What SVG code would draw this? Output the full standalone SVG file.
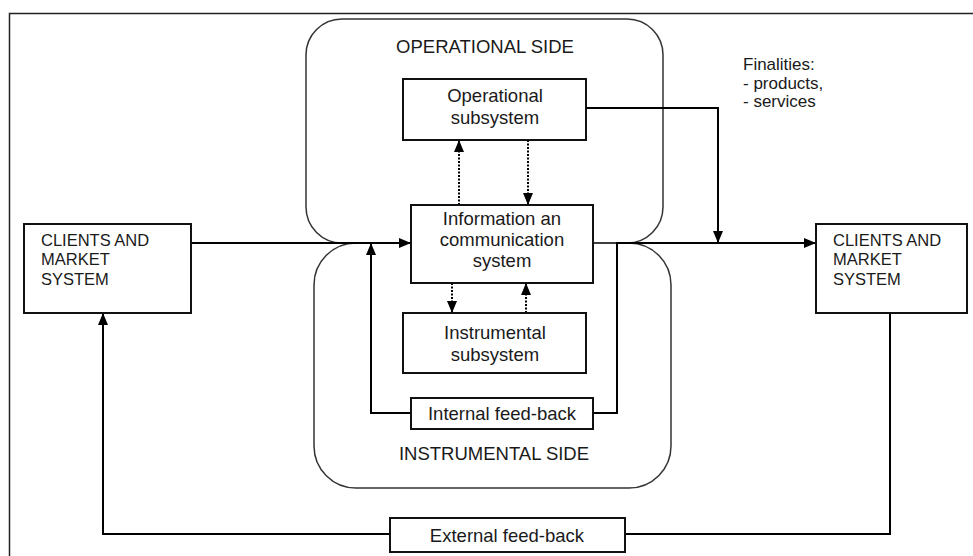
<svg xmlns="http://www.w3.org/2000/svg" width="973" height="556" viewBox="0 0 973 556">
<defs>
<marker id="arr" viewBox="0 0 12 10" refX="12" refY="5" markerWidth="12" markerHeight="10" markerUnits="userSpaceOnUse" orient="auto">
<path d="M0,0 L12,5 L0,10 z" fill="#000"/>
</marker>
<style>
.side{fill:none;stroke:#333;stroke-width:1.5}
.box{fill:#fff;stroke:#111;stroke-width:2}
.ln{fill:none;stroke:#000;stroke-width:2}
.dot{fill:none;stroke:#000;stroke-width:2;stroke-dasharray:2,1.5}
text{font-family:"Liberation Sans",Arial,sans-serif;fill:#1a1a1a}
.t{font-size:18.5px;text-anchor:middle}
.c{font-size:16.5px}
.f{font-size:17px}
</style>
</defs>
<rect width="973" height="556" fill="#fff"/>
<path d="M9.5,556 V13.5 H973" fill="none" stroke="#222" stroke-width="1.5"/>
<g id="operational-side">
<rect class="side" x="306" y="19" width="357" height="224" rx="36"/>
<text class="t" x="485" y="53">OPERATIONAL SIDE</text>
</g>
<g id="instrumental-side">
<rect class="side" x="314" y="243" width="357" height="245" rx="42"/>
<text class="t" x="494" y="460">INSTRUMENTAL SIDE</text>
</g>
<g id="connectors">
<path class="ln" d="M191,243 H411" marker-end="url(#arr)"/>
<path class="ln" d="M411,413 H371 V243" marker-end="url(#arr)"/>
<path class="ln" d="M593,413 H617 V243 H816" marker-end="url(#arr)"/>
<path class="ln" d="M586,108 H718 V243" marker-end="url(#arr)"/>
<path class="ln" d="M890,313 V534 H625"/>
<path class="ln" d="M390,534 H103 V313" marker-end="url(#arr)"/>
<path class="dot" d="M459,205 V140" marker-end="url(#arr)"/>
<path class="dot" d="M528,140 V205" marker-end="url(#arr)"/>
<path class="dot" d="M452,283 V313" marker-end="url(#arr)"/>
<path class="dot" d="M526,313 V283" marker-end="url(#arr)"/>
</g>
<g id="operational-subsystem">
<rect class="box" x="403" y="79" width="183" height="61"/>
<text class="t" x="495" y="102">Operational</text>
<text class="t" x="495" y="124">subsystem</text>
</g>
<g id="information-system">
<rect class="box" x="411" y="205" width="182" height="78"/>
<text class="t" x="502" y="225">Information an</text>
<text class="t" x="502" y="246">communication</text>
<text class="t" x="502" y="267">system</text>
</g>
<g id="instrumental-subsystem">
<rect class="box" x="403" y="313" width="183" height="60"/>
<text class="t" x="495" y="339">Instrumental</text>
<text class="t" x="495" y="361">subsystem</text>
</g>
<g id="internal-feedback">
<rect class="box" x="411" y="398" width="182" height="31"/>
<text class="t" x="502" y="420">Internal feed-back</text>
</g>
<g id="external-feedback">
<rect class="box" x="390" y="518" width="235" height="34"/>
<text class="t" x="507" y="542">External feed-back</text>
</g>
<g id="clients-left">
<rect class="box" x="24" y="224" width="167" height="89"/>
<text class="c" x="41" y="246">CLIENTS AND</text>
<text class="c" x="41" y="265">MARKET</text>
<text class="c" x="41" y="285">SYSTEM</text>
</g>
<g id="clients-right">
<rect class="box" x="816" y="224" width="151" height="89"/>
<text class="c" x="833" y="246">CLIENTS AND</text>
<text class="c" x="833" y="265">MARKET</text>
<text class="c" x="833" y="285">SYSTEM</text>
</g>
<g id="finalities">
<text class="f" x="743" y="70">Finalities:</text>
<text class="f" x="743" y="88.5">- products,</text>
<text class="f" x="743" y="107">- services</text>
</g>
</svg>
